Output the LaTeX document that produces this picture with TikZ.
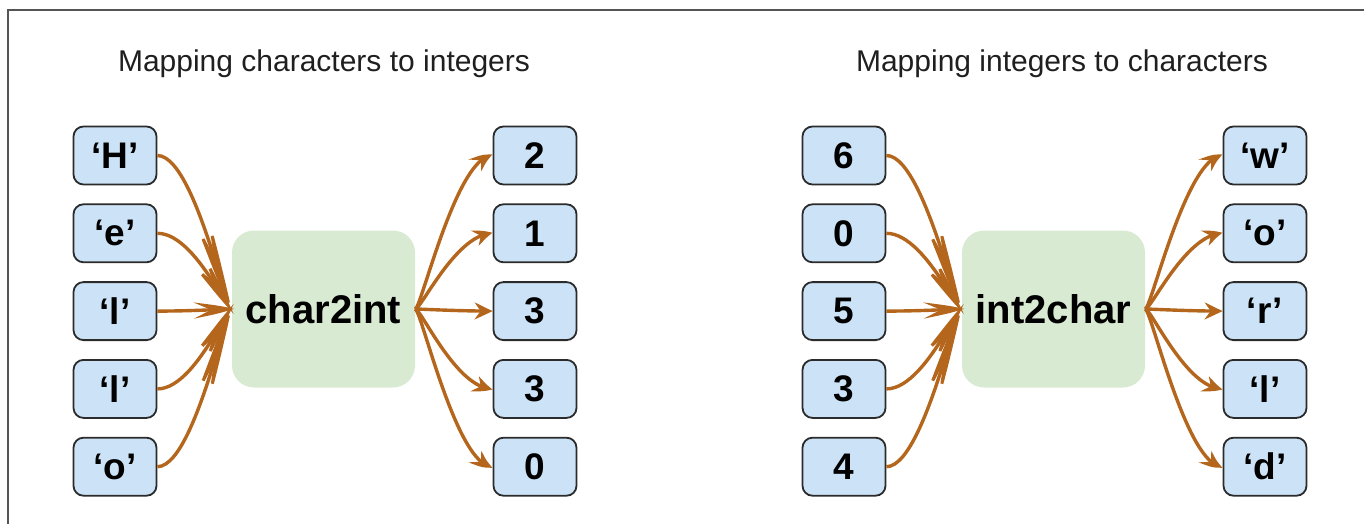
\documentclass[tikz,border=0pt]{standalone}
\usepackage{fontspec}
\setmainfont{Liberation Sans}
\usetikzlibrary{arrows.meta,bending}
\definecolor{boxblue}{HTML}{CCE3F7}
\definecolor{boxgreen}{HTML}{D9EAD3}
\definecolor{arrowc}{HTML}{B4661C}
\definecolor{framec}{HTML}{555555}
\definecolor{edgec}{HTML}{2B2B2B}
\tikzset{
  valbox/.style={rectangle, rounded corners=10pt, draw=edgec, line width=1.8pt, fill=boxblue,
    minimum width=83pt, minimum height=58pt, inner sep=0pt,
    font=\bfseries\fontsize{37}{37}\selectfont},
  funcbox/.style={rectangle, rounded corners=22pt, fill=boxgreen, minimum width=183pt,
    minimum height=157pt, inner sep=0pt, font=\bfseries\fontsize{40}{40}\selectfont},
  title/.style={anchor=base, font=\fontsize{30}{30}\selectfont, text=black!88},
  flow/.style={draw=arrowc, line width=3.4pt, -{Stealth[length=18pt,width=17pt,inset=6pt,bend]}},
}
\begin{document}
\begin{tikzpicture}[x=1pt,y=-1pt]
\useasboundingbox (0,0) rectangle (1364,524);
\draw[framec, line width=1.5pt] (8,524) -- (8,10) -- (1364,10);

\node[title] (t1) at (324,72) {Mapping characters to integers};
\node[title] (t2) at (1062,72) {Mapping integers to characters};

% left diagram
\node[funcbox] (f1) at (323.5,309) {char2int};
\foreach \i/\t in {0/‘H’,1/‘e’,2/‘l’,3/‘l’,4/‘o’}{
  \node[valbox] (a\i) at (115,155.5+77.8*\i) {\t};
}
\foreach \i/\t in {0/2,1/1,2/3,3/3,4/0}{
  \node[valbox] (b\i) at (535,155.5+77.8*\i) {\t};
}
% right diagram
\node[funcbox] (f2) at (1053.5,309) {int2char};
\foreach \i/\t in {0/6,1/0,2/5,3/3,4/4}{
  \node[valbox] (c\i) at (844,155.5+77.8*\i) {\t};
}
\foreach \i/\t in {0/‘w’,1/‘o’,2/‘r’,3/‘l’,4/‘d’}{
  \node[valbox] (d\i) at (1265,155.5+77.8*\i) {\t};
}

\foreach \i in {0,...,4}{
  \draw[flow] (a\i.east) .. controls +(36,0) and +(-6,0) .. (f1.west);
  \draw[flow] (f1.east) .. controls +(6,0) and +(-36,0) .. (b\i.west);
  \draw[flow] (c\i.east) .. controls +(36,0) and +(-6,0) .. (f2.west);
  \draw[flow] (f2.east) .. controls +(6,0) and +(-36,0) .. (d\i.west);
}
\end{tikzpicture}
\end{document}
